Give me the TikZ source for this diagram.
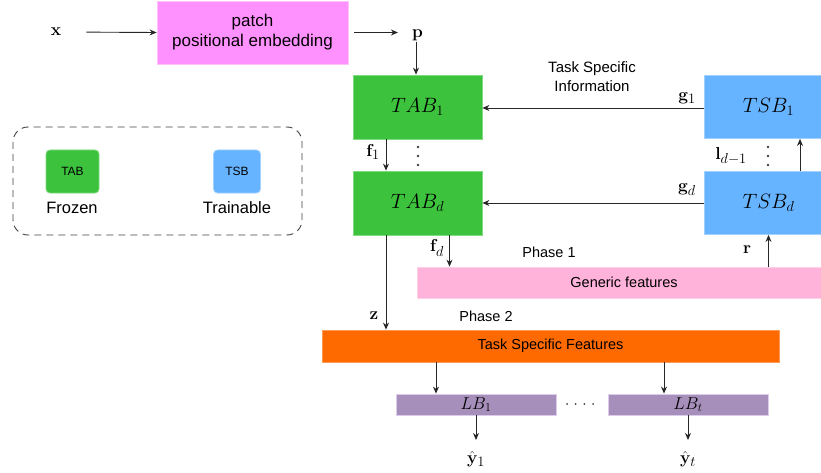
\documentclass[tikz,border=0pt]{standalone}
\usepackage[no-math]{fontspec}
\setmainfont{Liberation Sans}
\usetikzlibrary{arrows.meta}
\definecolor{tabgreen}{HTML}{3CC23C}
\definecolor{tabgreenb}{HTML}{7EDB7E}
\definecolor{tsbblue}{HTML}{66B3FF}
\definecolor{tsbblueb}{HTML}{9FD0FF}
\definecolor{patchpink}{HTML}{FF91FF}
\definecolor{patchpinkb}{HTML}{FFC2FF}
\definecolor{genpink}{HTML}{FFB3DB}
\definecolor{genpinkb}{HTML}{FFD1E8}
\definecolor{tsforange}{HTML}{FF6A00}
\definecolor{tsforangeb}{HTML}{FF9A55}
\definecolor{lbpurple}{HTML}{A68FBB}
\definecolor{lbpurpleb}{HTML}{DCCBEA}
\begin{document}
\begin{tikzpicture}[x=1pt,y=-1pt,
  arr/.style={draw=black!85,line width=0.9pt,-{Stealth[length=7pt,width=6pt]}},
  box/.style={rectangle,inner sep=0pt,line width=0.8pt},
  mathlbl/.style={inner sep=1pt,font=\fontsize{19}{22}\selectfont},
  txt/.style={inner sep=1pt,font=\fontsize{14.5}{17}\selectfont},
  tabbox/.style={box,fill=tabgreen,draw=tabgreenb,minimum width=129pt,minimum height=64pt,font=\fontsize{20}{24}\selectfont},
  tsbbox/.style={box,fill=tsbblue,draw=tsbblueb,minimum width=129pt,minimum height=63pt,font=\fontsize{20}{24}\selectfont},
  lbbox/.style={box,fill=lbpurple,draw=lbpurpleb,minimum width=160pt,minimum height=21pt,font=\fontsize{18}{20}\selectfont},
  dotc/.style={fill=black!75}
]
\useasboundingbox (0,0) rectangle (821,473);
\clip (0,0) rectangle (821,473);

% legend
\draw[black!75,line width=0.9pt,dash pattern=on 7pt off 5pt,rounded corners=15pt] (13,127) rectangle (302,235);
\node[box,fill=tabgreen,draw=tabgreenb,rounded corners=4pt,minimum width=53pt,minimum height=43pt,font=\fontsize{12}{14}\selectfont] (legtab) at (72.5,171.5) {TAB};
\node[box,fill=tsbblue,draw=tsbblueb,rounded corners=4pt,minimum width=47pt,minimum height=43pt,font=\fontsize{12}{14}\selectfont] (legtsb) at (237,171.5) {TSB};
\node[inner sep=0pt,font=\fontsize{16.5}{19}\selectfont] (frozen) at (72,208) {Frozen};
\node[inner sep=0pt,font=\fontsize{16.5}{19}\selectfont] (trainable) at (237,208) {Trainable};

% top row
\node[mathlbl] (x) at (56,32) {$\mathbf{x}$};
\node[box,fill=patchpink,draw=patchpinkb,minimum width=191pt,minimum height=63pt,align=center,font=\fontsize{17}{20}\selectfont] (patch) at (252.5,32.5) {patch\\positional embedding};
\node[mathlbl] (p) at (417.5,35) {$\mathbf{p}$};
\draw[arr,shorten <=24pt] (x.east) -- (patch.west);
\draw[arr,shorten <=6pt,shorten >=13pt] (patch.east) -- (p.west |- patch.east);

% TAB blocks
\node[tabbox] (tab1) at (417.5,107) {$TAB_1$};
\node[tabbox] (tabd) at (417.5,203) {$TAB_d$};
\draw[arr] (p.south -| 416,0) -- (tab1.north -| 416,0);
% TSB blocks
\node[tsbbox] (tsb1) at (768.5,107) {$TSB_1$};
\node[tsbbox] (tsbd) at (768.5,203) {$TSB_d$};

\draw[arr] (tsb1.west |- 0,108) -- (tab1.east |- 0,108);
\draw[arr] (tsbd.west |- 0,203) -- (tabd.east |- 0,203);
\node[mathlbl] (g1) at (687,98) {$\mathbf{g}_1$};
\node[mathlbl] (gd) at (687,190) {$\mathbf{g}_d$};
\node[inner sep=1pt,align=center,font=\fontsize{15}{19}\selectfont] (tsinfo) at (592,77) {Task Specific\\Information};

\draw[arr] ([xshift=-31.5pt]tab1.south) -- ([xshift=-31.5pt]tabd.north);
\node[mathlbl] (f1) at (373,152) {$\mathbf{f}_1$};
\foreach \yy in {147,156,165} {\fill[dotc] (418,\yy) circle (1.3pt);}
\draw[arr] ([xshift=31.5pt]tsbd.north) -- ([xshift=31.5pt]tsb1.south);
\node[mathlbl] (ld) at (731,156) {$\mathbf{l}_{d-1}$};
\foreach \yy in {147,156,165} {\fill[dotc] (768,\yy) circle (1.3pt);}

% generic features
\node[box,fill=genpink,draw=genpinkb,minimum width=414pt,minimum height=31pt,txt] (gen) at (624,282.5) {Generic features};
\draw[arr] ([xshift=32pt]tabd.south) -- ([xshift=32pt]tabd.south |- gen.north);
\node[mathlbl] (fd) at (437,248) {$\mathbf{f}_d$};
\node[txt] (ph1) at (549,252) {Phase 1};
\draw[arr] (gen.north -| tsbd.south) -- (tsbd.south);
\node[mathlbl] (r) at (747,250) {$\mathbf{r}$};

% task specific features
\node[box,fill=tsforange,draw=tsforangeb,minimum width=457pt,minimum height=32pt,txt] (tsf) at (550.5,346) {Task Specific Features};
\draw[arr] ([xshift=-31.5pt]tabd.south) -- ([xshift=-31.5pt]tabd.south |- tsf.north);
\node[mathlbl] (z) at (374,316) {$\mathbf{z}$};
\node[txt] (ph2) at (486,316) {Phase 2};

% LB blocks
\node[lbbox] (lb1) at (476,404.5) {$LB_1$};
\node[lbbox] (lbt) at (688,404.5) {$LB_t$};
\draw[arr] ([xshift=-40pt]lb1.north |- tsf.south) -- ([xshift=-40pt]lb1.north);
\draw[arr] ([xshift=-24pt]lbt.north |- tsf.south) -- ([xshift=-24pt]lbt.north);
\foreach \xx in {567,575.7,584.3,593} {\fill[dotc] (\xx,404) circle (1pt);}
\node[mathlbl] (y1) at (476,459) {$\hat{\mathbf{y}}_1$};
\node[mathlbl] (yt) at (688,459) {$\hat{\mathbf{y}}_t$};
\draw[arr] (lb1.south) -- (lb1.south |- 0,440);
\draw[arr] (lbt.south) -- (lbt.south |- 0,440);
\end{tikzpicture}
\end{document}
